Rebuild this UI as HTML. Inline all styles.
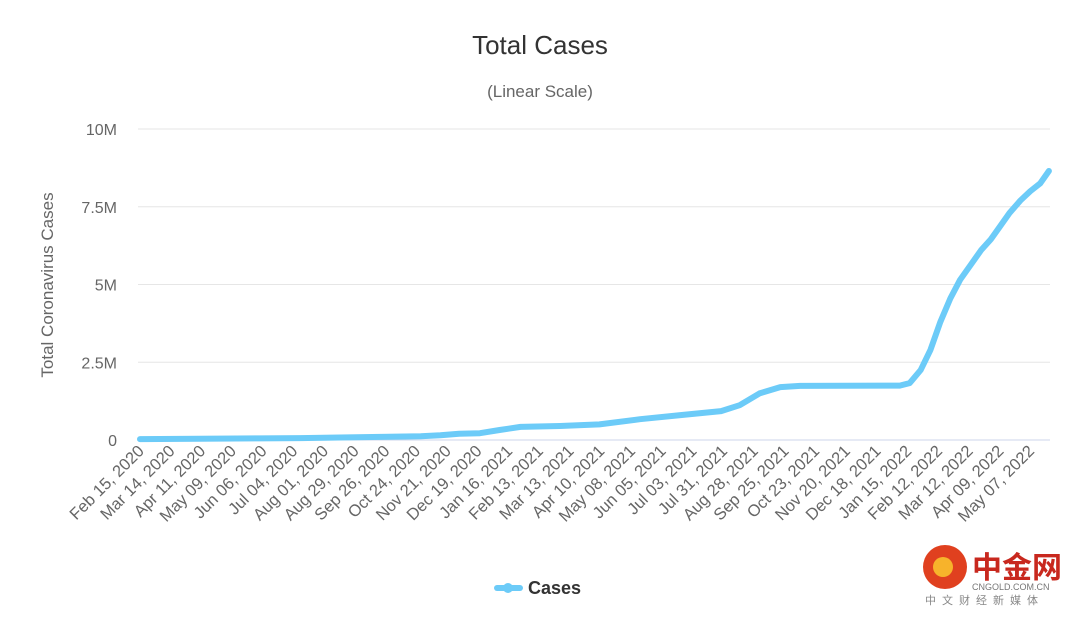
<!DOCTYPE html>
<html><head><meta charset="utf-8"><style>
body{margin:0;background:#fff;font-family:"Liberation Sans","Noto Sans CJK SC",sans-serif;}
svg{display:block}
</style></head><body>
<svg width="1080" height="617" id="c">
<text x="540" y="54" text-anchor="middle" font-size="26" fill="#333">Total Cases</text>
<text x="540" y="97" text-anchor="middle" font-size="17" fill="#666">(Linear Scale)</text>
<text transform="translate(53,285) rotate(-90)" text-anchor="middle" font-size="17" fill="#666">Total Coronavirus Cases</text>
<g id="grid"></g>
<g id="xl"></g>
<g id="ser"></g>
<g>
<line x1="497" y1="588" x2="520" y2="588" stroke="#6ccbf8" stroke-width="6" stroke-linecap="round"/>
<circle cx="508" cy="588" r="5" fill="#6ccbf8"/>
<text x="528" y="594" font-size="18" font-weight="bold" fill="#333">Cases</text>
</g>
<g>
<circle cx="945" cy="567" r="22" fill="#e0401f"/>
<circle cx="943" cy="567" r="10" fill="#f7b32b"/>
<text x="972" y="578" font-size="30" font-weight="bold" fill="#c8281e">中金网</text>
<text x="972" y="590" font-size="9" fill="#777">CNGOLD.COM.CN</text>
<text x="925" y="604" font-size="11" fill="#888" letter-spacing="6">中文财经新媒体</text>
</g>
</svg>
<script>
const yTicks=[0,2.5,5,7.5,10];
const yTickLabels=["0","2.5M","5M","7.5M","10M"];
const xLabels=["Feb 15, 2020","Mar 14, 2020","Apr 11, 2020","May 09, 2020","Jun 06, 2020","Jul 04, 2020","Aug 01, 2020","Aug 29, 2020","Sep 26, 2020","Oct 24, 2020","Nov 21, 2020","Dec 19, 2020","Jan 16, 2021","Feb 13, 2021","Mar 13, 2021","Apr 10, 2021","May 08, 2021","Jun 05, 2021","Jul 03, 2021","Jul 31, 2021","Aug 28, 2021","Sep 25, 2021","Oct 23, 2021","Nov 20, 2021","Dec 18, 2021","Jan 15, 2022","Feb 12, 2022","Mar 12, 2022","Apr 09, 2022","May 07, 2022"];
const dayIdx=[0,54,109,146,182,219,256,274,291,310,328,347,383,419,456,493,530,547,565,584,602,693,702,712,721,730,739,748,758,767,776,784,793,803,812,821,829];
const cases=[0.03,0.04,0.05,0.06,0.08,0.1,0.12,0.15,0.2,0.22,0.32,0.42,0.45,0.5,0.67,0.8,0.93,1.12,1.5,1.7,1.74,1.75,1.83,2.25,2.9,3.8,4.55,5.15,5.65,6.1,6.45,6.85,7.3,7.7,8.0,8.25,8.65];
const NS="http://www.w3.org/2000/svg";
const X0=140,PXD=30.7/28,Y0=440,PXM=31.1,XR=1050;
const xs=d=>X0+d*PXD, ys=v=>Y0-v*PXM;
const g=document.getElementById('grid');
yTicks.forEach((t,i)=>{
 const l=document.createElementNS(NS,'line');
 l.setAttribute('x1',138);l.setAttribute('x2',XR);l.setAttribute('y1',ys(t));l.setAttribute('y2',ys(t));
 l.setAttribute('stroke',i==0?'#ccd6eb':'#e6e6e6');l.setAttribute('stroke-width',1);
 
 
 g.appendChild(l);
 const tx=document.createElementNS(NS,'text');
 tx.setAttribute('x',117);tx.setAttribute('y',ys(t)+6);tx.setAttribute('text-anchor','end');
 tx.setAttribute('font-size','16');tx.setAttribute('fill','#666');tx.textContent=yTickLabels[i];
 
 
 g.appendChild(tx);
});
const xl=document.getElementById('xl');
xLabels.forEach((s,i)=>{
 const x=xs(i*28)+5,y=452;
 const tx=document.createElementNS(NS,'text');
 tx.setAttribute('transform',`translate(${x},${y}) rotate(-45)`);
 tx.setAttribute('text-anchor','end');tx.setAttribute('font-size','16.5');tx.setAttribute('fill','#666');
 tx.textContent=s;
 
 
 xl.appendChild(tx);
});
const p=document.createElementNS(NS,'path');
p.setAttribute('d',dayIdx.map((d,i)=>(i?'L':'M')+xs(d).toFixed(1)+','+ys(cases[i]).toFixed(1)).join(''));
p.setAttribute('fill','none');p.setAttribute('stroke','#6ccbf8');p.setAttribute('stroke-width','6');
p.setAttribute('stroke-linejoin','round');p.setAttribute('stroke-linecap','round');


document.getElementById('ser').appendChild(p);
</script>
</body></html>
